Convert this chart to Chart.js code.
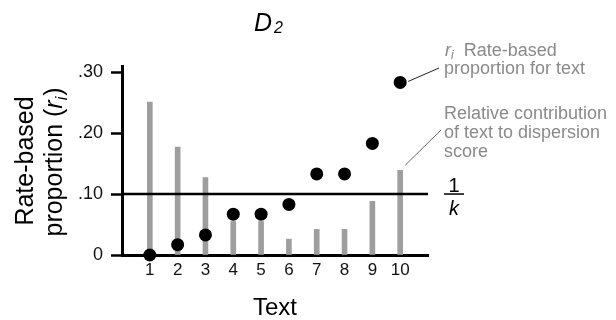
<!DOCTYPE html>
<html>
<head>
<meta charset="utf-8">
<script src="https://cdn.jsdelivr.net/npm/chart.js@4"></script>
<style>
    html, body { margin: 0; padding: 0; background: #fff; }
    #wrap { width: 616px; height: 320px; position: relative; }
</style>
</head>
<body>
<div id="wrap"><canvas id="chart"></canvas></div>
<script>
// Данные графика
const texts = [1, 2, 3, 4, 5, 6, 7, 8, 9, 10];
const contribution = [0.251, 0.177, 0.127, 0.055, 0.055, 0.026, 0.042, 0.042, 0.088, 0.139];
const rateProportion = [0, 0.017, 0.033, 0.067, 0.067, 0.083, 0.133, 0.133, 0.183, 0.283];
const yTickValues = [0, 0.1, 0.2, 0.3];
const yTickLabels = ['0', '.10', '.20', '.30'];
const k = 10;

const FONT = '"Liberation Sans", Arial, sans-serif';
const GREY_TEXT = '#8a8a8a';

// Рисуем текст из кусочков (обычный / курсив / индекс)
function drawPieces(ctx, pieces, x, y) {
    let cx = x;
    pieces.forEach(p => {
        ctx.font = p.font;
        cx += p.gap || 0;
        ctx.fillText(p.text, cx, y + (p.dy || 0));
        cx += ctx.measureText(p.text).width;
    });
    return cx;
}

function piecesWidth(ctx, pieces) {
    let w = 0;
    pieces.forEach(p => {
        ctx.font = p.font;
        w += (p.gap || 0) + ctx.measureText(p.text).width;
    });
    return w;
}

// Линия 1/k поверх столбцов
const kLinePlugin = {
    id: 'kLine',
    afterDatasetDraw(chart, args) {
        if (args.index !== 0) return;
        const ctx = chart.ctx;
        const y = chart.scales.y.getPixelForValue(1 / k);
        ctx.save();
        ctx.strokeStyle = '#000';
        ctx.lineWidth = 2.5;
        ctx.beginPath();
        ctx.moveTo(chart.chartArea.left, y);
        ctx.lineTo(chart.chartArea.right, y);
        ctx.stroke();
        ctx.restore();
    }
};

// Подписи и аннотации
const labelsPlugin = {
    id: 'labels',
    afterDraw(chart) {
        const ctx = chart.ctx;
        const xs = chart.scales.x;
        const ys = chart.scales.y;
        ctx.save();
        ctx.textBaseline = 'alphabetic';
        ctx.textAlign = 'left';

        // Заголовок D2
        ctx.fillStyle = '#000';
        drawPieces(ctx, [
            { text: 'D', font: 'italic 25px ' + FONT },
            { text: '2', font: 'italic 16px ' + FONT, dy: 2, gap: 2 }
        ], 254, 31);

        // Подпись оси X
        ctx.font = '24px ' + FONT;
        ctx.textAlign = 'center';
        ctx.fillText('Text', 275, 315);
        ctx.textAlign = 'left';

        // Подпись оси Y (повернутая, две строки)
        const line1 = [{ text: 'Rate-based', font: '25px ' + FONT }];
        const line2 = [
            { text: 'proportion (', font: '25px ' + FONT },
            { text: 'r', font: 'italic 25px ' + FONT },
            { text: 'i', font: 'italic 16px ' + FONT, dy: 5 },
            { text: ')', font: '25px ' + FONT, gap: 1 }
        ];
        const cy = 161;
        ctx.save();
        ctx.translate(33, cy);
        ctx.rotate(-Math.PI / 2);
        drawPieces(ctx, line1, -piecesWidth(ctx, line1) / 2, 0);
        ctx.restore();
        ctx.save();
        ctx.translate(62, cy + 1);
        ctx.rotate(-Math.PI / 2);
        drawPieces(ctx, line2, -piecesWidth(ctx, line2) / 2, 0);
        ctx.restore();

        // 1/k справа от линии
        const yk = ys.getPixelForValue(1 / k);
        ctx.font = '20px ' + FONT;
        ctx.textAlign = 'center';
        ctx.fillText('1', 454, yk - 2);
        ctx.font = 'italic 20px ' + FONT;
        ctx.fillText('k', 454, yk + 21);
        ctx.strokeStyle = '#000';
        ctx.lineWidth = 1.5;
        ctx.beginPath();
        ctx.moveTo(444, yk);
        ctx.lineTo(464, yk);
        ctx.stroke();
        ctx.textAlign = 'left';

        // Выноски к последнему тексту
        const last = texts.length - 1;
        const px = xs.getPixelForValue(texts[last]);
        const pDot = ys.getPixelForValue(rateProportion[last]);
        const pBar = ys.getPixelForValue(contribution[last]);

        ctx.lineWidth = 1;
        ctx.strokeStyle = '#222';
        ctx.beginPath();
        ctx.moveTo(px + 8, pDot - 1);
        ctx.lineTo(439, 68);
        ctx.stroke();

        ctx.strokeStyle = '#666';
        ctx.beginPath();
        ctx.moveTo(px + 5, pBar - 5);
        ctx.lineTo(441, 130);
        ctx.stroke();

        ctx.fillStyle = GREY_TEXT;
        drawPieces(ctx, [
            { text: 'r', font: 'italic 18px ' + FONT },
            { text: 'i', font: 'italic 12px ' + FONT, dy: 3 },
            { text: '  Rate-based', font: '18px ' + FONT }
        ], 445, 56);
        ctx.font = '18px ' + FONT;
        ctx.fillText('proportion for text', 444, 74);
        ctx.fillText('Relative contribution', 444, 119);
        ctx.fillText('of text to dispersion', 444, 138);
        ctx.fillText('score', 444, 157);

        ctx.restore();
    }
};

const canvas = document.getElementById('chart');
canvas.chart = new Chart(canvas, {
    type: 'bar',
    data: {
        datasets: [
            {
                type: 'bar',
                data: texts.map((t, i) => ({ x: t, y: contribution[i] })),
                backgroundColor: '#9e9e9e',
                barThickness: 5,
                order: 2
            },
            {
                type: 'line',
                data: texts.map((t, i) => ({ x: t, y: rateProportion[i] })),
                showLine: false,
                pointRadius: 6.5,
                pointBackgroundColor: '#000',
                pointBorderWidth: 0,
                clip: false,
                order: 1
            }
        ]
    },
    options: {
        responsive: true,
        maintainAspectRatio: false,
        animation: false,
        events: [],
        layout: {
            padding: { left: 0, top: 66, right: 188, bottom: 0 }
        },
        plugins: {
            legend: { display: false },
            tooltip: { enabled: false }
        },
        scales: {
            x: {
                type: 'linear',
                offset: false,
                min: 0,
                max: 11,
                afterFit(scale) { scale.height = 65; },
                afterBuildTicks(scale) {
                    scale.ticks = texts.map(v => ({ value: v }));
                },
                grid: { display: false, drawTicks: false, offset: false },
                border: { display: true, color: '#000', width: 3 },
                ticks: {
                    padding: 5,
                    color: '#111',
                    font: { family: FONT, size: 17 },
                    callback: v => String(v)
                }
            },
            y: {
                min: 0,
                max: 0.31,
                afterFit(scale) { scale.width = 122; },
                afterBuildTicks(scale) {
                    scale.ticks = yTickValues.map(v => ({ value: v }));
                },
                grid: {
                    drawOnChartArea: false,
                    drawTicks: true,
                    tickLength: 11,
                    tickWidth: 2.5,
                    tickColor: '#000'
                },
                border: { display: true, color: '#000', width: 3 },
                ticks: {
                    padding: 8,
                    color: '#111',
                    font: { family: FONT, size: 18 },
                    callback: (v) => {
                        const i = yTickValues.indexOf(v);
                        return i >= 0 ? yTickLabels[i] : '';
                    }
                }
            }
        }
    },
    plugins: [kLinePlugin, labelsPlugin]
});
</script>
</body>
</html>
